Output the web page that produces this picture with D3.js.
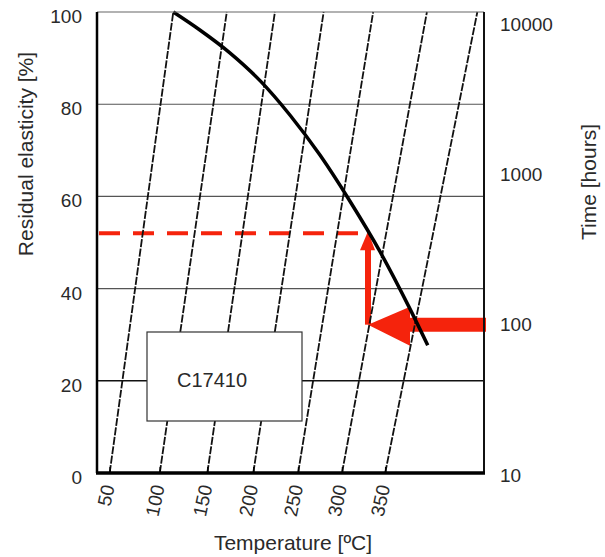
<!DOCTYPE html>
<html>
<head>
<meta charset="utf-8">
<script src="https://cdn.jsdelivr.net/npm/d3@7"></script>
<style>
  body { margin: 0; background: #fff; }
  svg text { font-family: "Liberation Sans", Arial, sans-serif; fill: #2a2a2a; }
</style>
</head>
<body>
<svg id="canvas"></svg>
<script>
"use strict";

// temperature ticks on the bottom axis [ºC]
const tempTicks = [50, 100, 150, 200, 250, 300, 350];
// isotherm lines: temperature where each line meets the bottom (10 h) and the top (10000 h)
const isoBottom = [50, 100, 150, 200, 250, 300, 350];
const isoTop = [114, 171, 224, 279, 336, 399, 459];
// residual elasticity axis [%]
const elasticityTicks = [0, 20, 40, 60, 80, 100];
const gridValues = [20, 40, 60, 80];
// time axis [hours]
const timeTicks = [10, 100, 1000, 10000];
// C17410 curve
const curveTemp = [114, 142, 174, 208, 241, 275, 309, 344, 379, 400];
const curveElast = [100, 96.1, 91.2, 85.0, 77.6, 68.9, 59.0, 48.0, 35.6, 27.7];
// reading example (red arrows)
const markTime = 100;
const markTemp = 330;
const markElast = 52;
const gradeLabel = "C17410";

const width = 605;
const height = 557;
const plotLeft = 97;
const plotRight = 484;
const plotTop = 12;
const plotBottom = 473;

const canvas = d3.select("#canvas").attr("width", width).attr("height", height);

const xScale = d3.scalePow().exponent(0.9).domain([38, 467]).range([plotLeft, plotRight]);
const yScale = d3.scaleLinear().domain([0, 100]).range([plotBottom, plotTop]);
const tScale = d3.scaleLog().domain([10, 10000]).range([475, 24]);

// horizontal gridlines
canvas
  .append("g")
  .selectAll("line")
  .data(gridValues)
  .enter()
  .append("line")
  .attr("x1", plotLeft)
  .attr("x2", plotRight)
  .attr("y1", (d) => yScale(d))
  .attr("y2", (d) => yScale(d))
  .attr("stroke", (d) => (d === 20 ? "#111" : "#555"))
  .attr("stroke-width", (d) => (d === 20 ? 1.6 : 1.1));

// red reading lines
const red = "#f5230c";
const yMark = yScale(markElast);
const xMark = xScale(markTemp);
const yTime = tScale(markTime);

canvas
  .append("line")
  .attr("x1", plotLeft + 2)
  .attr("x2", xMark)
  .attr("y1", yMark)
  .attr("y2", yMark)
  .attr("stroke", red)
  .attr("stroke-width", 4)
  .attr("stroke-dasharray", "21,13");

// vertical arrow up to the curve
canvas
  .append("line")
  .attr("x1", xMark)
  .attr("x2", xMark)
  .attr("y1", yTime)
  .attr("y2", yMark + 14)
  .attr("stroke", red)
  .attr("stroke-width", 6);
canvas
  .append("path")
  .attr("d", `M${xMark - 8},${yMark + 17}L${xMark},${yMark - 2}L${xMark + 7},${yMark + 17}Z`)
  .attr("fill", red);

// horizontal arrow from the time axis
canvas
  .append("line")
  .attr("x1", plotRight + 2)
  .attr("x2", xMark + 40)
  .attr("y1", yTime)
  .attr("y2", yTime)
  .attr("stroke", red)
  .attr("stroke-width", 14);
canvas
  .append("path")
  .attr("d", `M${xMark + 42},${yTime - 18}L${xMark},${yTime}L${xMark + 42},${yTime + 21}Z`)
  .attr("fill", red);

// isotherms
canvas
  .append("g")
  .selectAll("line")
  .data(isoBottom)
  .enter()
  .append("line")
  .attr("x1", (d) => xScale(d))
  .attr("y1", yScale(0))
  .attr("x2", (d, i) => xScale(isoTop[i]))
  .attr("y2", yScale(100))
  .attr("stroke", "#111")
  .attr("stroke-width", 1.8)
  .attr("stroke-dasharray", "8,1.5");

// elasticity curve
const curvePoints = curveTemp.map((t, i) => [xScale(t), yScale(curveElast[i])]);
canvas
  .append("path")
  .attr("d", d3.line().curve(d3.curveMonotoneX)(curvePoints))
  .attr("fill", "none")
  .attr("stroke", "#000")
  .attr("stroke-width", 3.5);

// grade label box
canvas
  .append("rect")
  .attr("x", 147)
  .attr("y", 332)
  .attr("width", 155)
  .attr("height", 89)
  .attr("fill", "#fff")
  .attr("stroke", "#333")
  .attr("stroke-width", 1.2);
canvas
  .append("text")
  .attr("x", 212)
  .attr("y", 387)
  .attr("text-anchor", "middle")
  .attr("font-size", 20)
  .text(gradeLabel);

// frame
canvas
  .append("line")
  .attr("x1", plotLeft)
  .attr("x2", plotRight)
  .attr("y1", plotTop)
  .attr("y2", plotTop)
  .attr("stroke", "#666")
  .attr("stroke-width", 1.2);
canvas
  .append("line")
  .attr("x1", plotRight)
  .attr("x2", plotRight)
  .attr("y1", plotTop)
  .attr("y2", plotBottom)
  .attr("stroke", "#111")
  .attr("stroke-width", 2);
canvas
  .append("line")
  .attr("x1", plotLeft)
  .attr("x2", plotLeft)
  .attr("y1", plotTop)
  .attr("y2", plotBottom)
  .attr("stroke", "#000")
  .attr("stroke-width", 2.5);
canvas
  .append("line")
  .attr("x1", plotLeft - 1)
  .attr("x2", plotRight + 1)
  .attr("y1", plotBottom)
  .attr("y2", plotBottom)
  .attr("stroke", "#000")
  .attr("stroke-width", 3.5);

// axes
const xAxis = d3.axisBottom(xScale).tickValues(tempTicks).tickSizeInner(-6).tickSizeOuter(0);
const yAxis = d3.axisLeft(yScale).tickValues(elasticityTicks).tickSize(0).tickPadding(15);
const tAxis = d3
  .axisRight(tScale)
  .tickValues(timeTicks)
  .tickFormat(d3.format("d"))
  .tickSize(0)
  .tickPadding(16);

const gx = canvas.append("g").attr("transform", `translate(0,${plotBottom})`).call(xAxis);
gx.select(".domain").remove();
gx.selectAll(".tick line").attr("stroke", "#000").attr("stroke-width", 1.5);
gx.selectAll(".tick text")
  .attr("font-size", 19)
  .attr("text-anchor", "end")
  .attr("x", 0)
  .attr("y", 0)
  .attr("dy", "0.35em")
  .attr("transform", "translate(-2,12) rotate(-78)");

const gy = canvas.append("g").attr("transform", `translate(${plotLeft},0)`).call(yAxis);
gy.select(".domain").remove();
gy.selectAll(".tick text").attr("font-size", 19).attr("dy", "0.55em");

const gt = canvas.append("g").attr("transform", `translate(${plotRight},0)`).call(tAxis);
gt.select(".domain").remove();
gt.selectAll(".tick text").attr("font-size", 19);

canvas.selectAll(".tick text").attr("fill", "#2a2a2a");

// axis titles
canvas
  .append("text")
  .attr("x", 293)
  .attr("y", 550)
  .attr("text-anchor", "middle")
  .attr("font-size", 21)
  .text("Temperature [ºC]");

canvas
  .append("text")
  .attr("transform", "translate(33,154) rotate(-90)")
  .attr("text-anchor", "middle")
  .attr("font-size", 21)
  .text("Residual elasticity [%]");

canvas
  .append("text")
  .attr("transform", "translate(596,182) rotate(-90)")
  .attr("text-anchor", "middle")
  .attr("font-size", 21)
  .text("Time [hours]");
</script>
</body>
</html>
